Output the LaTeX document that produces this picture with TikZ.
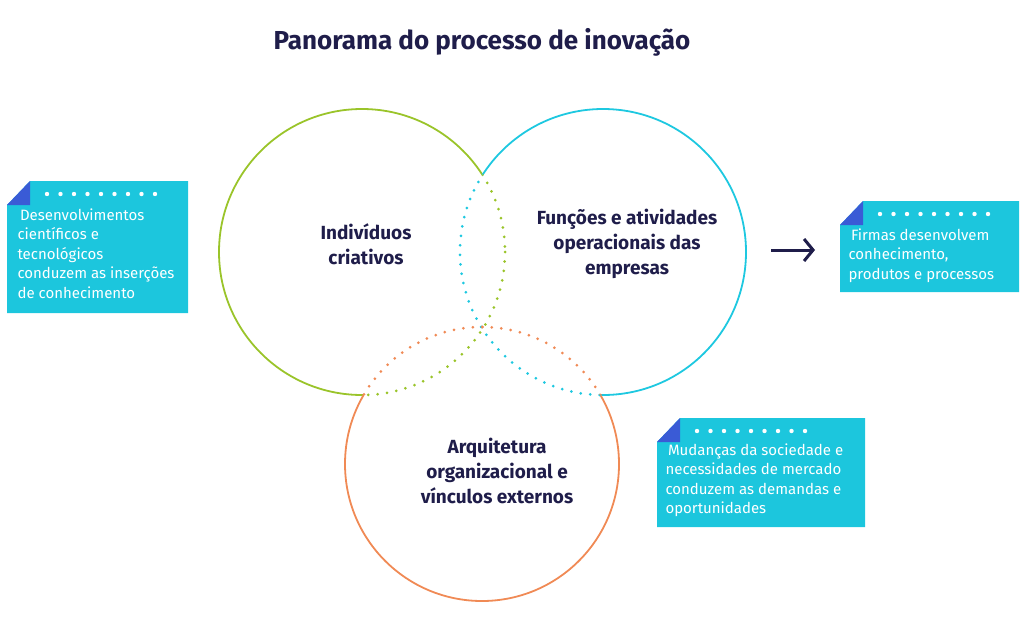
\documentclass[tikz,border=0pt]{standalone}
\usepackage{fontspec}
\setmainfont{Fira Sans}
\usetikzlibrary{arrows.meta}
\definecolor{navy}{HTML}{1F1D4A}
\definecolor{lime}{HTML}{9AC42A}
\definecolor{sky}{HTML}{1EC8E0}
\definecolor{coral}{HTML}{F08A55}
\definecolor{note}{HTML}{1CC6DD}
\definecolor{fold}{HTML}{3A5BD6}
\tikzset{
  ring/.style={line width=1.8pt},
  dots/.style={line width=3pt, line cap=round, dash pattern=on 0pt off 9.5pt},
  label/.style={font=\bfseries\fontsize{19}{25}\selectfont, text=navy, align=center},
  notetext/.style={font=\fontsize{15}{19.5}\selectfont, text=white, align=left, anchor=north west}
}
% folded note: #1 left, #2 top, #3 right, #4 bottom
\newcommand{\notebox}[4]{
  \fill[note] (#1+23,#2) -- (#3,#2) -- (#3,#4) -- (#1,#4) -- (#1,#2+24) -- cycle;
  \fill[fold] (#1,#2+24) -- (#1+23,#2) -- (#1+23,#2+24) -- cycle;
  \foreach \k in {0,...,8} \fill[white] (#1+40+\k*13.5,#2+13) circle (2.2);
}
\begin{document}
\begin{tikzpicture}[x=1pt,y=-1pt]
\useasboundingbox (0,0) rectangle (1024,621);
\def\ga{(362,252) circle (143)}
\def\bl{(603,252) circle (143)}
\def\co{(482,464) circle (137)}
% solid outer arcs
\begin{scope}[even odd rule]
  \clip (0,0) rectangle (1024,621) \bl;
  \clip (0,0) rectangle (1024,621) \co;
  \draw[ring, lime] \ga;
\end{scope}
\begin{scope}[even odd rule]
  \clip (0,0) rectangle (1024,621) \ga;
  \clip (0,0) rectangle (1024,621) \co;
  \draw[ring, sky] \bl;
\end{scope}
\begin{scope}[even odd rule]
  \clip (0,0) rectangle (1024,621) \ga;
  \clip (0,0) rectangle (1024,621) \bl;
  \draw[ring, coral] \co;
\end{scope}
% dotted inner arcs
\begin{scope}\clip \bl; \draw[dots, lime] \ga; \end{scope}
\begin{scope}\clip \co; \draw[dots, lime] \ga; \end{scope}
\begin{scope}\clip \ga; \draw[dots, sky] \bl; \end{scope}
\begin{scope}\clip \co; \draw[dots, sky] \bl; \end{scope}
\begin{scope}\clip \ga; \draw[dots, coral] \co; \end{scope}
\begin{scope}\clip \bl; \draw[dots, coral] \co; \end{scope}
% title and circle labels
\node[font=\bfseries\fontsize{26}{30}\selectfont, text=navy] (title) at (482,42) {Panorama do processo de inovação};
\node[label] (individuos) at (366,244) {Indivíduos\\criativos};
\node[label] (funcoes) at (627,244) {Funções e atividades\\operacionais das\\empresas};
\node[label] (arquitetura) at (497,471) {Arquitetura\\organizacional e\\vínculos externos};
% notes
\notebox{7}{181}{188}{313}
\node[notetext] (ciencia) at (14,205) {\,Desenvolvimentos\\científicos e\\tecnológicos\\conduzem as inserções\\de conhecimento};
\notebox{840}{201}{1019}{292}
\node[notetext] (firmas) at (845,225) {\,Firmas desenvolvem\\conhecimento,\\produtos e processos};
\notebox{657}{418}{865}{527}
\node[notetext] (mercado) at (662,440) {\,Mudanças da sociedade e\\necessidades de mercado\\conduzem as demandas e\\oportunidades};
% arrow
\coordinate (from) at (771,250);
\coordinate (to) at (815,250);
\draw[navy, line width=3pt, -{Straight Barb[length=9pt,width=22pt]}] (from) -- (to);
\end{tikzpicture}
\end{document}
